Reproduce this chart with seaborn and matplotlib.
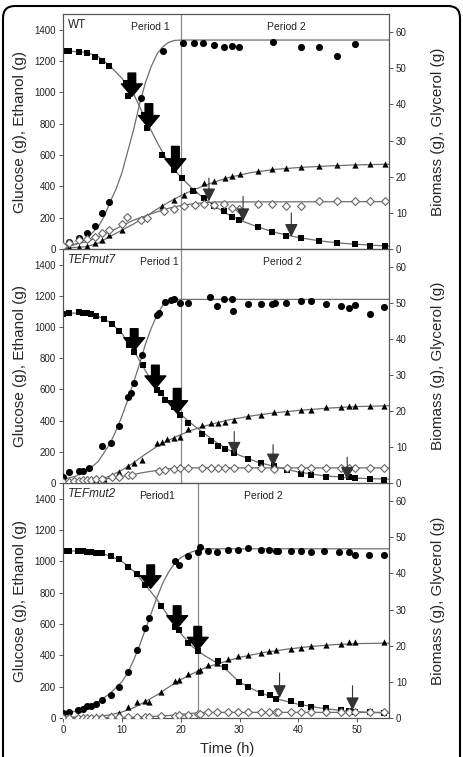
import numpy as np
import pandas as pd
import matplotlib
matplotlib.use("Agg")
import matplotlib.pyplot as plt
from matplotlib.patches import FancyBboxPatch
import seaborn as sns

# ---------------- WT ----------------
wt_glc_t = [0, 1.1, 2.7, 4.0, 5.4, 6.7, 7.9, 10.7, 11.1, 13.8, 14.3, 16.9, 18.8, 20.2, 22.1, 23.9, 25.6, 27.4,
            28.8, 29.9, 33.1, 35.6, 37.9, 40.4, 43.5, 46.6, 49.7, 52.2, 54.8]
wt_glc = [1266, 1266, 1259, 1251, 1226, 1200, 1166, 1060, 979, 857, 772, 602, 506, 453, 372, 326, 277, 243,
          204, 187, 143, 109, 81, 68, 53, 38, 32, 21, 17]
wt_glc_fit_t = [0, 4, 6, 8, 10, 12, 14, 16, 18, 20, 22, 24, 26, 28, 30, 33, 36, 40, 44, 48, 52, 55.4]
wt_glc_fit = [1266, 1255, 1228, 1168, 1090, 990, 830, 680, 545, 460, 385, 322, 268, 222, 185, 142, 106, 73, 50, 35, 25, 19]

wt_bio_t = [0, 1.1, 2.7, 4.0, 5.4, 6.7, 7.9, 13.2, 17.0, 20.4, 22.2, 23.8, 25.6, 27.4, 28.7, 29.9, 35.7, 40.4,
            43.5, 46.6, 49.7]
wt_bio = [0.9, 1.8, 3.0, 4.4, 6.3, 10.0, 12.9, 41.9, 54.9, 57.1, 57.1, 57.1, 56.3, 56.0, 56.2, 55.8, 57.2, 55.8,
          55.8, 53.4, 56.8]
wt_bio_fit_t = [0, 2, 4, 6, 7, 8, 9, 10, 11, 12, 13, 14, 15, 16, 17, 18, 19, 20, 55.4]
wt_bio_fit = [0.4, 1.2, 2.8, 6.2, 9.0, 13.0, 16.5, 21.0, 27.0, 33.0, 40.0, 46.0, 50.5, 54.0, 56.0, 57.2, 57.7, 57.8, 57.8]

wt_eth_t = [0, 1.1, 2.7, 4.0, 5.4, 6.7, 7.9, 10.1, 14.3, 16.9, 18.8, 20.5, 22.2, 23.9, 25.6, 27.5, 28.8, 30.1,
            33.1, 35.6, 37.9, 40.4, 43.5, 46.6, 49.7, 52.2, 54.8]
wt_eth = [13, 13, 13, 17, 38, 60, 89, 123, 208, 277, 315, 347, 379, 421, 432, 453, 464, 479,
          496, 511, 519, 521, 532, 538, 538, 543, 543]
wt_eth_fit_t = [0, 4, 6, 8, 10, 12, 14, 16, 18, 20, 22, 25, 28, 32, 36, 40, 45, 50, 55.4]
wt_eth_fit = [5, 15, 38, 80, 120, 160, 205, 255, 300, 340, 375, 418, 455, 488, 508, 520, 530, 537, 541]

wt_gly_t = [0, 1.1, 2.7, 4.0, 5.4, 6.7, 7.9, 10.1, 10.9, 13.2, 14.3, 17.2, 18.8, 20.5, 22.4, 23.9, 25.6, 27.4,
            28.8, 29.9, 33.1, 35.6, 37.9, 40.4, 43.5, 46.6, 49.7, 52.2, 54.8]
wt_gly = [0.9, 1.7, 2.4, 2.8, 3.3, 4.4, 5.3, 7.0, 8.8, 8.1, 8.5, 10.4, 11.2, 11.8, 12.1, 12.4, 12.3, 12.4,
          11.3, 11.1, 12.5, 12.5, 11.8, 11.8, 13.2, 13.2, 13.2, 13.2, 13.2]
wt_gly_fit_t = [0, 4, 8, 12, 16, 18, 20, 22, 24, 26, 55.4]
wt_gly_fit = [0.6, 2.0, 4.8, 8.0, 10.3, 11.3, 12.0, 12.5, 12.8, 13.0, 13.1]

wt_big_t = [11.7, 14.6, 19.1]
wt_big_top = [1123, 927, 655]
wt_big_tip = [974, 772, 496]
wt_thin_t = [24.8, 30.6, 38.8]
wt_thin_top = [453, 336, 230]
wt_thin_tip = [304, 177, 77]

# ---------------- TEFmut7 ----------------
m7_glc_t = [0, 1.1, 2.7, 3.4, 4.0, 4.8, 5.6, 7.0, 8.3, 9.6, 11.2, 12.0, 13.6, 16.0, 16.6, 17.4, 18.8, 19.9,
            21.2, 23.6, 25.2, 26.4, 27.5, 29.1, 31.5, 33.7, 35.8, 38.0, 40.4, 42.1, 44.7, 47.2, 48.6, 49.7, 52.2, 54.5]
m7_glc = [1085, 1090, 1094, 1092, 1090, 1085, 1072, 1053, 1021, 972, 883, 840, 755, 596, 574, 532, 489, 436,
          383, 315, 272, 240, 217, 191, 153, 128, 111, 81, 60, 51, 36, 36, 36, 30, 26, 21]
m7_glc_fit_t = [0, 4, 6, 8, 10, 12, 14, 16, 18, 20, 22, 24, 26, 28, 30, 33, 36, 40, 44, 48, 52, 55.4]
m7_glc_fit = [1090, 1088, 1068, 1030, 960, 850, 720, 600, 515, 440, 375, 318, 262, 215, 178, 135, 105, 70, 48, 35, 28, 25]

m7_bio_t = [0, 1.1, 2.7, 3.4, 4.4, 6.7, 8.1, 9.6, 11.0, 11.5, 12.1, 13.5, 16.0, 16.3, 17.4, 18.3, 18.8, 19.9,
            21.2, 25.0, 26.1, 27.4, 28.7, 28.9, 31.5, 33.6, 35.6, 36.1, 37.9, 40.4, 42.1, 44.7, 47.2, 48.6, 49.7,
            52.1, 54.5]
m7_bio = [1.8, 3.0, 3.4, 3.4, 4.2, 10.2, 11.1, 15.9, 24.0, 24.9, 27.9, 35.5, 46.6, 47.3, 50.3, 50.8, 51.0, 50.0,
          50.0, 51.7, 49.1, 51.0, 51.1, 47.7, 49.6, 49.7, 49.7, 50.1, 49.9, 50.5, 50.5, 49.7, 49.1, 48.5, 49.4,
          46.9, 48.8]
m7_bio_fit_t = [0, 2, 4, 6, 8, 9, 10, 11, 12, 13, 14, 15, 16, 17, 18, 19, 55.4]
m7_bio_fit = [1.0, 1.8, 3.2, 6.0, 11.0, 14.5, 18.5, 23.0, 28.0, 33.0, 38.5, 43.0, 46.8, 49.5, 50.8, 51.0, 51.0]

m7_eth_t = [0, 1.1, 2.7, 4.0, 5.6, 7.0, 8.3, 9.6, 11.0, 12.1, 13.5, 16.0, 16.9, 17.7, 18.8, 19.9, 21.2, 23.6,
            25.2, 26.4, 27.5, 29.1, 31.5, 33.7, 35.8, 38.0, 40.4, 42.1, 44.7, 47.2, 48.6, 49.7, 52.1, 54.5]
m7_eth = [6, 6, 6, 8, 17, 28, 53, 68, 106, 128, 145, 255, 262, 281, 287, 298, 347, 372,
          387, 387, 391, 404, 430, 438, 455, 453, 468, 468, 489, 487, 494, 494, 494, 494]
m7_eth_fit_t = [0, 4, 6, 8, 10, 12, 14, 16, 18, 20, 22, 25, 28, 32, 36, 40, 45, 50, 55.4]
m7_eth_fit = [3, 8, 20, 45, 82, 130, 185, 235, 275, 310, 340, 375, 403, 430, 450, 465, 480, 490, 495]

m7_gly_t = [0, 1.1, 1.9, 2.7, 3.4, 4.0, 4.8, 5.6, 6.7, 8.3, 9.6, 11.0, 11.8, 16.3, 17.4, 18.8, 19.9, 21.2,
            23.6, 25.2, 26.4, 27.5, 29.1, 31.5, 33.7, 35.8, 38.0, 40.4, 42.1, 44.7, 47.2, 48.6, 49.7, 52.1, 54.5]
m7_gly = [0.3, 0.3, 0.5, 0.6, 0.7, 0.7, 0.9, 1.1, 1.2, 1.6, 1.8, 2.1, 2.1, 3.2, 3.5, 3.9, 4.2, 4.2,
          4.2, 4.2, 4.2, 4.2, 4.2, 4.2, 4.2, 4.0, 4.2, 4.2, 4.2, 4.2, 4.2, 4.2, 4.2, 4.2, 4.2]
m7_gly_fit_t = [0, 5, 8, 10, 12, 14, 16, 18, 20, 55.4]
m7_gly_fit = [0.3, 0.8, 1.3, 1.8, 2.4, 3.0, 3.5, 4.0, 4.2, 4.2]

m7_big_t = [12.1, 15.7, 19.4]
m7_big_top = [989, 755, 606]
m7_big_tip = [851, 606, 447]
m7_thin_t = [29.1, 35.7, 48.3]
m7_thin_top = [330, 245, 166]
m7_thin_tip = [181, 106, 21]

# ---------------- TEFmut2 ----------------
m2_glc_t = [0, 1.1, 2.5, 3.4, 4.0, 4.8, 5.6, 6.7, 8.1, 9.6, 11.1, 12.5, 14.0, 16.7, 19.1, 19.7, 21.3, 22.9,
            26.3, 27.5, 29.9, 31.5, 33.7, 35.1, 36.2, 38.8, 40.4, 42.1, 44.7, 47.2, 48.6, 49.7, 52.1, 54.5]
m2_glc = [1068, 1068, 1066, 1066, 1062, 1057, 1055, 1051, 1034, 1013, 966, 920, 850, 716, 580, 559, 478, 425,
          361, 325, 229, 195, 159, 147, 121, 106, 91, 70, 62, 49, 47, 40, 36, 30]
m2_glc_fit_t = [0, 4, 6, 8, 10, 12, 14, 16, 18, 20, 22, 24, 26, 28, 30, 33, 36, 40, 44, 48, 52, 55.4]
m2_glc_fit = [1068, 1064, 1055, 1035, 1000, 938, 850, 755, 645, 540, 455, 400, 355, 300, 228, 170, 125, 88, 62, 45, 36, 32]

m2_bio_t = [0, 1.1, 2.5, 3.4, 4.0, 4.8, 5.6, 6.7, 8.1, 9.6, 11.1, 12.5, 14.0, 14.6, 19.1, 19.7, 21.3, 22.9,
            23.3, 24.7, 26.1, 28.1, 29.8, 31.5, 33.7, 35.0, 36.2, 36.6, 38.8, 40.4, 42.1, 44.4, 46.9, 48.6, 49.7,
            52.0, 54.5]
m2_bio = [1.4, 1.6, 2.1, 2.6, 3.2, 3.4, 4.0, 5.1, 6.4, 8.6, 12.6, 18.7, 24.9, 27.6, 43.3, 42.2, 44.9, 45.8,
          47.2, 46.3, 46.0, 46.5, 46.5, 47.1, 46.5, 46.5, 46.3, 46.3, 46.3, 46.2, 46.0, 46.2, 46.0, 46.0, 45.1,
          45.1, 45.0]
m2_bio_fit_t = [0, 2, 4, 6, 8, 10, 11, 12, 13, 14, 15, 16, 17, 18, 19, 20, 21, 22, 23, 24, 55.4]
m2_bio_fit = [1.2, 1.8, 2.8, 4.5, 6.8, 10.0, 12.5, 16.0, 20.0, 24.5, 29.0, 33.5, 37.5, 40.5, 42.8, 44.3, 45.3,
              46.0, 46.5, 46.8, 46.8]

m2_eth_t = [0, 1.1, 2.5, 3.4, 4.0, 4.8, 5.6, 6.7, 8.1, 9.6, 11.1, 12.5, 14.0, 14.6, 16.7, 19.1, 19.7, 21.3,
            22.9, 23.3, 24.7, 26.1, 28.1, 29.8, 31.5, 33.7, 35.0, 36.2, 38.8, 40.4, 42.1, 44.7, 47.2, 48.6, 49.7, 54.5]
m2_eth = [6, 6, 6, 6, 6, 8, 10, 15, 21, 32, 70, 100, 108, 102, 164, 234, 240, 283,
          302, 308, 340, 350, 376, 393, 404, 418, 425, 435, 442, 450, 457, 463, 474, 482, 482, 482]
m2_eth_fit_t = [0, 6, 8, 10, 12, 14, 16, 18, 20, 22, 24, 26, 30, 34, 38, 42, 46, 50, 55.4]
m2_eth_fit = [5, 10, 20, 38, 65, 105, 148, 198, 245, 283, 318, 343, 387, 417, 439, 456, 468, 475, 478]

m2_gly_t = [0, 1.1, 2.5, 3.4, 4.0, 4.8, 5.6, 6.7, 8.1, 9.6, 11.1, 12.5, 14.0, 14.6, 16.7, 19.1, 19.7, 21.3,
            22.9, 23.3, 24.7, 26.1, 28.1, 29.8, 31.5, 33.7, 35.0, 36.2, 36.6, 38.8, 40.4, 42.1, 44.7, 47.2, 48.6,
            49.7, 52.1, 54.5]
m2_gly = [0.0, 0.0, 0.0, 0.0, 0.1, 0.1, 0.1, 0.1, 0.2, 0.2, 0.2, 0.2, 0.2, 0.3, 0.5, 0.6, 0.8, 0.9,
          1.1, 1.2, 1.6, 1.6, 1.6, 1.6, 1.6, 1.6, 1.6, 1.6, 1.6, 1.6, 1.6, 1.6, 1.6, 1.6, 1.6, 1.6, 1.6, 1.6]
m2_gly_fit_t = [0, 10, 14, 18, 20, 22, 24, 26, 55.4]
m2_gly_fit = [0.0, 0.1, 0.3, 0.7, 1.0, 1.3, 1.5, 1.55, 1.55]

m2_big_t = [14.9, 19.4, 22.9]
m2_big_top = [977, 716, 584]
m2_big_tip = [828, 573, 435]
m2_thin_t = [36.8, 49.2]
m2_thin_top = [287, 206]
m2_thin_tip = [127, 49]

strain_names = ["WT", "TEFmut7", "TEFmut2"]
period_switch = [20, 20, 23]
period_labels = [[("Period 1", 14.8), ("Period 2", 38.0)],
                 [("Period 1", 16.4), ("Period 2", 37.3)],
                 [("Period1", 15.9), ("Period 2", 34.0)]]

panels = [
    dict(glc=(wt_glc_t, wt_glc), glc_fit=(wt_glc_fit_t, wt_glc_fit), bio=(wt_bio_t, wt_bio),
         bio_fit=(wt_bio_fit_t, wt_bio_fit), eth=(wt_eth_t, wt_eth), eth_fit=(wt_eth_fit_t, wt_eth_fit),
         gly=(wt_gly_t, wt_gly), gly_fit=(wt_gly_fit_t, wt_gly_fit),
         big=(wt_big_t, wt_big_top, wt_big_tip), thin=(wt_thin_t, wt_thin_top, wt_thin_tip)),
    dict(glc=(m7_glc_t, m7_glc), glc_fit=(m7_glc_fit_t, m7_glc_fit), bio=(m7_bio_t, m7_bio),
         bio_fit=(m7_bio_fit_t, m7_bio_fit), eth=(m7_eth_t, m7_eth), eth_fit=(m7_eth_fit_t, m7_eth_fit),
         gly=(m7_gly_t, m7_gly), gly_fit=(m7_gly_fit_t, m7_gly_fit),
         big=(m7_big_t, m7_big_top, m7_big_tip), thin=(m7_thin_t, m7_thin_top, m7_thin_tip)),
    dict(glc=(m2_glc_t, m2_glc), glc_fit=(m2_glc_fit_t, m2_glc_fit), bio=(m2_bio_t, m2_bio),
         bio_fit=(m2_bio_fit_t, m2_bio_fit), eth=(m2_eth_t, m2_eth), eth_fit=(m2_eth_fit_t, m2_eth_fit),
         gly=(m2_gly_t, m2_gly), gly_fit=(m2_gly_fit_t, m2_gly_fit),
         big=(m2_big_t, m2_big_top, m2_big_tip), thin=(m2_thin_t, m2_thin_top, m2_thin_tip)),
]

sns.set_theme(style="ticks")
plt.rcParams['font.family'] = ['Liberation Sans', 'DejaVu Sans']

LINE = "#6e6e6e"
SPINE = "#555555"

fig = plt.figure(figsize=(4.63, 7.57), dpi=100)
W, H = 463, 757
left, right = 63 / W, 389 / W
tops = [14, 249, 483]
bots = [249, 483, 718]


def fit_line(ax, xy):
    sns.lineplot(x=xy[0], y=xy[1], ax=ax, color=LINE, lw=0.9, estimator=None, sort=False, zorder=2)


def pts(ax, xy, marker, s, face="black", edge="black", lw=0.0):
    sns.scatterplot(x=xy[0], y=xy[1], ax=ax, marker=marker, s=s, color=face, edgecolor=edge,
                    linewidth=lw, zorder=3, legend=False)


for i, p in enumerate(panels):
    ax = fig.add_axes([left, 1 - bots[i] / H, right - left, (bots[i] - tops[i]) / H])
    ax2 = ax.twinx()

    # left axis: glucose, ethanol
    fit_line(ax, p["glc_fit"])
    fit_line(ax, p["eth_fit"])
    pts(ax, p["glc"], "s", 16)
    pts(ax, p["eth"], "^", 20)

    # right axis: biomass, glycerol
    fit_line(ax2, p["bio_fit"])
    fit_line(ax2, p["gly_fit"])
    pts(ax2, p["bio"], "o", 26)
    pts(ax2, p["gly"], "D", 16, face="white", edge="#666666", lw=0.8)

    ax.axvline(period_switch[i], color="#8a8a8a", lw=0.9, zorder=1)

    for t, top, tip in zip(*p["big"]):
        ax2.annotate("", xy=(t, tip), xytext=(t, top), xycoords=ax.transData, textcoords=ax.transData,
                     arrowprops=dict(arrowstyle="simple,head_length=0.9,head_width=1.5,tail_width=0.55",
                                     color="black", shrinkA=0, shrinkB=0, mutation_scale=10), zorder=5)
    for t, top, tip in zip(*p["thin"]):
        ax2.annotate("", xy=(t, tip), xytext=(t, top), xycoords=ax.transData, textcoords=ax.transData,
                     arrowprops=dict(arrowstyle="-|>,head_length=0.8,head_width=0.4", color="#333333",
                                     lw=0.8, shrinkA=0, shrinkB=0, mutation_scale=10), zorder=5)

    ax.text(0.9, 1430, strain_names[i], fontsize=8.5, ha="left", va="center",
            style="normal" if i == 0 else "italic")
    for lab, xt in period_labels[i]:
        ax.text(xt, 1415, lab, fontsize=7.5, ha="center", va="center", color="#222222")

    ax.set_xlim(0, 55.4)
    ax.set_ylim(0, 1500)
    ax2.set_ylim(0, 65)
    ax.set_yticks(np.arange(0, 1401, 200))
    ax2.set_yticks(np.arange(0, 61, 10))
    ax.set_xticks(np.arange(0, 51, 10))
    for a in (ax, ax2):
        a.tick_params(labelsize=7, length=3, width=0.7, color=SPINE, labelcolor="#222222", pad=2)
        for sp in a.spines.values():
            sp.set_color(SPINE)
            sp.set_linewidth(0.8)
            sp.set_visible(True)
    if i < 2:
        ax.set_xticklabels([])
    ax.set_xlabel("")
    ax2.set_xlabel("")
    ax.set_ylabel("Glucose (g), Ethanol (g)", fontsize=11)
    ax2.set_ylabel("Biomass (g), Glycerol (g)", fontsize=11)
    ax.yaxis.set_label_coords(-0.11, 0.5)
    ax2.yaxis.set_label_coords(1.13, 0.5)
    ax2.set_zorder(ax.get_zorder() + 1)
    ax2.patch.set_visible(False)

fig.text(0.49, 0.0015, "Time (h)", fontsize=10.5, ha="center", va="bottom")

frame = FancyBboxPatch((3, -40), 457, 791, boxstyle="round,pad=0,rounding_size=12", transform=None,
                       fill=False, edgecolor="black", lw=1.5)
fig.patches.append(frame)

fig.savefig("out.png", dpi=100)
